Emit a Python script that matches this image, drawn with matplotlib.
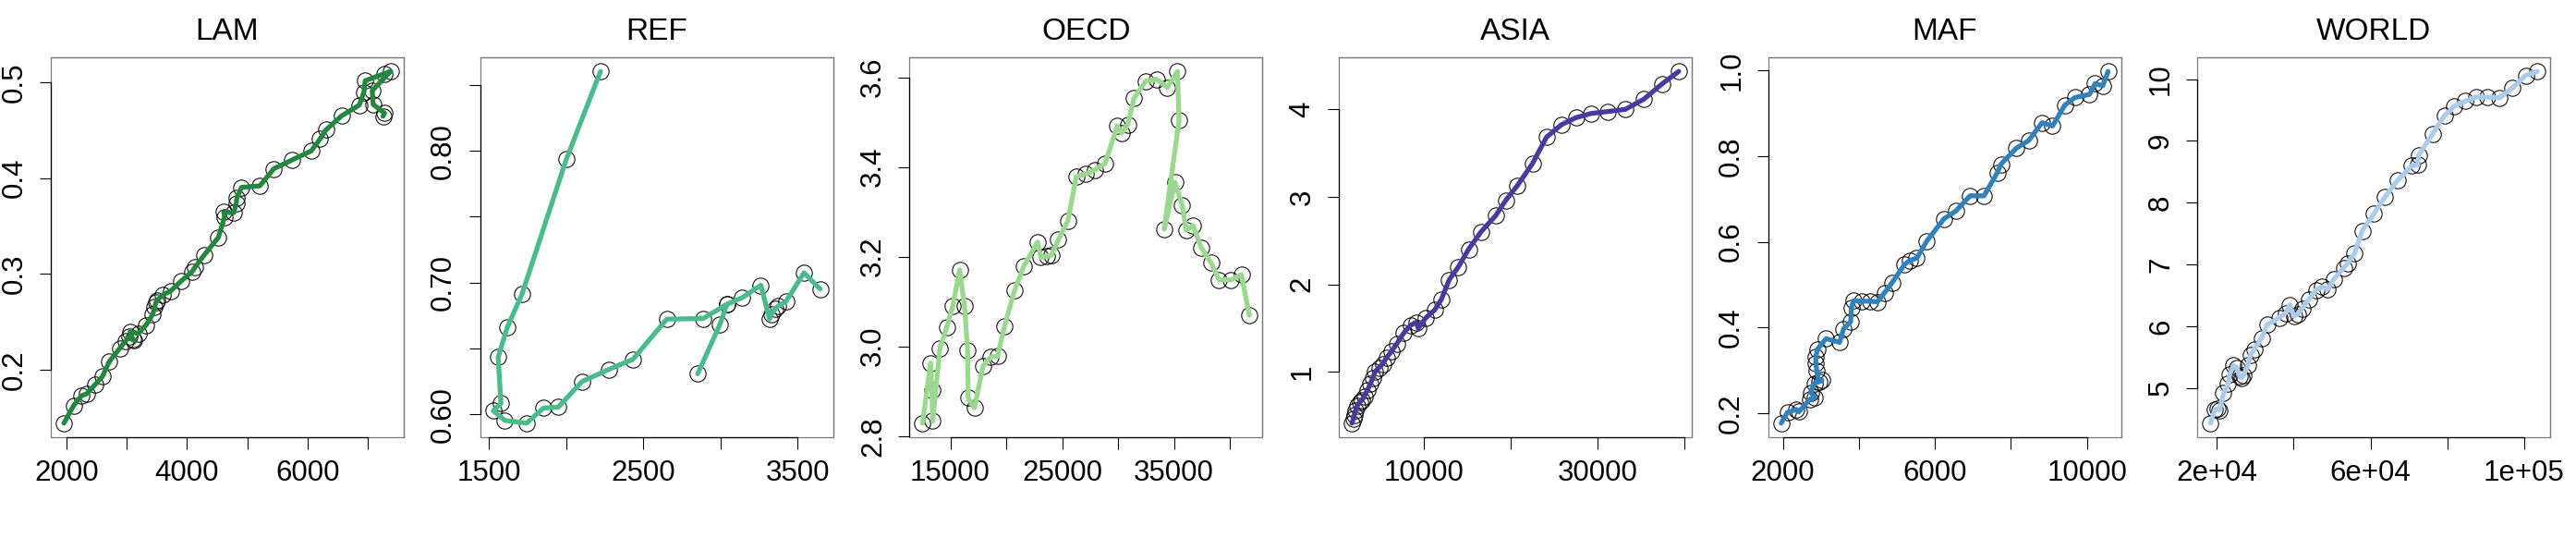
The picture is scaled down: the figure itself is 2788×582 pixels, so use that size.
import numpy as np
import matplotlib
matplotlib.use("Agg")
import matplotlib.pyplot as plt

plt.rcParams['font.family'] = ['Liberation Sans', 'DejaVu Sans']

# ---------------- data ----------------
panel_names = ["LAM", "REF", "OECD", "ASIA", "MAF", "WORLD"]
panel_colors = ["#23873f", "#4bba8c", "#9ad88f", "#4a3a9e", "#3181bd", "#aacbea"]

lam_x = [1954, 2118, 2245, 2337, 2475, 2593, 2705, 2884, 2976, 3038, 3125, 3099, 3053, 3191,
         3319, 3431, 3462, 3482, 3508, 3600, 3728, 3897, 4086, 4137, 4280, 4520, 4622, 4612,
         4776, 4817, 4827, 4904, 5210, 5440, 5737, 6064, 6207, 6309, 6565, 6861, 6938, 6959,
         7281, 7383, 7076, 7092, 7281, 7255]
lam_y = [0.144, 0.1626, 0.1726, 0.1748, 0.1845, 0.1926, 0.2081, 0.2223, 0.2297, 0.2346, 0.2304,
         0.2314, 0.2394, 0.2378, 0.2465, 0.2578, 0.2653, 0.2701, 0.2724, 0.2782, 0.2820, 0.2921,
         0.3024, 0.3072, 0.3192, 0.3379, 0.3589, 0.3644, 0.3637, 0.3734, 0.3789, 0.3902, 0.3918,
         0.4096, 0.4186, 0.4283, 0.4406, 0.4503, 0.4648, 0.4761, 0.4897, 0.5016, 0.5090, 0.5113,
         0.4913, 0.4768, 0.4677, 0.4645]

ref_x = [2222, 2000, 1712, 1618, 1558, 1576, 1526, 1602, 1742, 1852, 1948, 2102, 2276, 2432,
         2652, 2888, 3042, 3142, 3262, 3318, 3332, 3358, 3372, 3426, 3542, 3646,
         np.nan, 2852, 2996, 3042]
ref_y = [0.8604, 0.7936, 0.6910, 0.6663, 0.6434, 0.6082, 0.6026, 0.5953, 0.5932, 0.6047, 0.6054,
         0.6248, 0.6340, 0.6417, 0.6722, 0.6727, 0.6835, 0.6886, 0.6980, 0.6722, 0.6762, 0.6804,
         0.6820, 0.6858, 0.7074, 0.6952,
         np.nan, 0.6307, 0.6680, 0.6835]

oecd_x = [12517, 13234, 13345, 13427, 14062, 14669, 15221, 15828, 16269, 16545, 16600, 17152,
          17925, 18614, 19221, 19828, 20739, 21567, 22808, 23084, 23636, 24050, 24657, 25512,
          26257, 27085, 27912, 28823, 29926, 30340, 30865, 31417, 32465, 33430, 34396, 35307,
          35445, 34120, 35086, 35721, 36107, 36686, 37431, 38314, 39031, 40052, 41018, 41735]
oecd_y = [2.8287, 2.9626, 2.9029, 2.8335, 2.9949, 3.0416, 3.0897, 3.1707, 3.0897, 2.9901, 2.8850,
          2.8630, 2.9558, 2.9764, 2.9777, 3.0437, 3.1240, 3.1790, 3.2326, 3.1982, 3.2010, 3.2030,
          3.2374, 3.2799, 3.3782, 3.3837, 3.3933, 3.4070, 3.4915, 3.4757, 3.4949, 3.5533, 3.5911,
          3.5959, 3.5773, 3.6130, 3.5032, 3.2614, 3.3658, 3.3143, 3.2580, 3.2696, 3.2202, 3.1859,
          3.1481, 3.1481, 3.1597, 3.0691]

asia_x = [1764, 1942, 2048, 2190, 2403, 2652, 2900, 3184, 3539, 3894, 4178, 4427, 4888, 5314,
          5740, 6308, 6911, 7728, 8509, 9148, 9397, 10284, 11278, 12059, 12947, 14012, 15183,
          16603, 18272, 19443, 20757, 22532, 24129, 25833, 27502, 29277, 31158, 33182, 35312,
          37442, 39323]
asia_y = [0.415, 0.465, 0.510, 0.563, 0.616, 0.658, 0.676, 0.722, 0.792, 0.863, 0.933, 1.004,
          1.050, 1.092, 1.163, 1.233, 1.321, 1.445, 1.533, 1.568, 1.497, 1.621, 1.709, 1.832,
          2.054, 2.202, 2.403, 2.601, 2.784, 2.960, 3.126, 3.383, 3.683, 3.824, 3.905, 3.954,
          3.975, 4.000, 4.116, 4.293, 4.434]

maf_x = [1959, 2122, 2357, 2422, 2706, 2844, 2730, 2828, 3030, 2949, 2893, 2868, 2868, 2909,
         3136, 3493, 3598, 3785, 3801, 3858, 4085, 4288, 4491, 4678, 4872, 5205, 5343, 5522,
         5789, 6236, 6544, 6925, 7290, 7639, 7737, 8142, 8467, 8816, 9092, 9416, 9684, 10065,
         10211, 10414, 10552]
maf_y = [0.1771, 0.2022, 0.2093, 0.2036, 0.2323, 0.2380, 0.2487, 0.2703, 0.2774, 0.2738, 0.2989,
         0.3168, 0.3312, 0.3491, 0.3742, 0.3656, 0.3971, 0.4136, 0.4459, 0.4624, 0.4616, 0.4616,
         0.4602, 0.4817, 0.5047, 0.5477, 0.5570, 0.5620, 0.6022, 0.6538, 0.6717, 0.7075, 0.7075,
         0.7613, 0.7814, 0.8186, 0.8366, 0.8781, 0.8703, 0.9190, 0.9369, 0.9441, 0.9692, 0.9642,
         0.9978]

world_x = [18312, 19437, 20080, 20643, 21688, 22894, 23296, 24261, 25146, 25869, 26352, 26914,
           27960, 28764, 29728, 31578, 33106, 36160, 37929, 38974, 40020, 40984, 42190, 43879,
           45808, 47416, 48864, 50472, 53044, 54009, 55858, 57868, 60924, 63738, 67114, 70732,
           72340, 72582, 76200, 79335, 81827, 84802, 87616, 90430, 93646, 97104, 100480, 103535]
world_y = [4.431, 4.650, 4.665, 4.640, 4.915, 5.065, 5.215, 5.365, 5.330, 5.190, 5.165, 5.200,
           5.365, 5.540, 5.630, 5.804, 6.029, 6.139, 6.214, 6.349, 6.164, 6.199, 6.289, 6.429,
           6.588, 6.638, 6.598, 6.763, 6.948, 7.013, 7.178, 7.547, 7.822, 8.087, 8.362, 8.596,
           8.611, 8.771, 9.111, 9.411, 9.560, 9.645, 9.710, 9.710, 9.695, 9.860, 10.060, 10.125]

# tick positions and labels ('' = tick without label)
lam_xticks = [2000, 3000, 4000, 5000, 6000, 7000]
lam_xlabels = ["2000", "", "4000", "", "6000", ""]
lam_yticks = [0.2, 0.3, 0.4, 0.5]
lam_ylabels = ["0.2", "0.3", "0.4", "0.5"]

ref_xticks = [1500, 2000, 2500, 3000, 3500]
ref_xlabels = ["1500", "", "2500", "", "3500"]
ref_yticks = [0.60, 0.65, 0.70, 0.75, 0.80, 0.85]
ref_ylabels = ["0.60", "", "0.70", "", "0.80", ""]

oecd_xticks = [15000, 20000, 25000, 30000, 35000, 40000]
oecd_xlabels = ["15000", "", "25000", "", "35000", ""]
oecd_yticks = [2.8, 3.0, 3.2, 3.4, 3.6]
oecd_ylabels = ["2.8", "3.0", "3.2", "3.4", "3.6"]

asia_xticks = [10000, 20000, 30000, 40000]
asia_xlabels = ["10000", "", "30000", ""]
asia_yticks = [1, 2, 3, 4]
asia_ylabels = ["1", "2", "3", "4"]

maf_xticks = [2000, 4000, 6000, 8000, 10000]
maf_xlabels = ["2000", "", "6000", "", "10000"]
maf_yticks = [0.2, 0.4, 0.6, 0.8, 1.0]
maf_ylabels = ["0.2", "0.4", "0.6", "0.8", "1.0"]

world_xticks = [20000, 40000, 60000, 80000, 100000]
world_xlabels = ["2e+04", "", "6e+04", "", "1e+05"]
world_yticks = [5, 6, 7, 8, 9, 10]
world_ylabels = ["5", "6", "7", "8", "9", "10"]

panels = [
    (lam_x, lam_y, lam_xticks, lam_xlabels, lam_yticks, lam_ylabels),
    (ref_x, ref_y, ref_xticks, ref_xlabels, ref_yticks, ref_ylabels),
    (oecd_x, oecd_y, oecd_xticks, oecd_xlabels, oecd_yticks, oecd_ylabels),
    (asia_x, asia_y, asia_xticks, asia_xlabels, asia_yticks, asia_ylabels),
    (maf_x, maf_y, maf_xticks, maf_xlabels, maf_yticks, maf_ylabels),
    (world_x, world_y, world_xticks, world_xlabels, world_yticks, world_ylabels),
]

# ---------------- figure ----------------
W, H = 2788, 582
fig = plt.figure(figsize=(W / 100, H / 100), dpi=100)

cell = W / 6.0
box_left = 55
box_w = 382
box_top = 62
box_bottom = 473

for i, (name, col, pdata) in enumerate(zip(panel_names, panel_colors, panels)):
    xs, ys, xt, xl, yt, yl = pdata
    left = (box_left + i * cell) / W
    ax = fig.add_axes([left, (H - box_bottom) / H, box_w / W, (box_bottom - box_top) / H])

    xa = np.array(xs, dtype=float)
    ya = np.array(ys, dtype=float)
    ok = ~np.isnan(xa)
    ax.plot(xa[ok], ya[ok], linestyle='none', marker='o', markersize=12.5,
            markerfacecolor='none', markeredgecolor='black', markeredgewidth=0.75, zorder=2)
    ax.plot(xa, ya, color=col, linewidth=3.8, solid_capstyle='round',
            solid_joinstyle='round', zorder=3)

    ax.margins(0.04)
    ax.set_xticks(xt)
    ax.set_xticklabels(xl)
    ax.set_yticks(yt)
    ax.set_yticklabels(yl)
    ax.tick_params(axis='both', direction='out', length=9, width=0.8, color='black',
                   labelsize=22.5, pad=8.6)
    for lab in ax.get_yticklabels():
        lab.set_rotation(90)
        lab.set_va('center')

    # grey box + black axis lines from first to last tick (R style)
    for s in ['top', 'right']:
        ax.spines[s].set_color('#7a7a7a')
        ax.spines[s].set_linewidth(0.9)
    ax.patch.set_edgecolor('#7a7a7a')
    ax.patch.set_linewidth(0.9)
    ax.spines['left'].set_color('black')
    ax.spines['bottom'].set_color('black')
    ax.spines['left'].set_linewidth(0.9)
    ax.spines['bottom'].set_linewidth(0.9)
    ax.spines['left'].set_bounds(yt[0], yt[-1])
    ax.spines['bottom'].set_bounds(xt[0], xt[-1])

    ax.set_title(name, fontsize=24, pad=13.7)

fig.savefig("out.png", dpi=100)
